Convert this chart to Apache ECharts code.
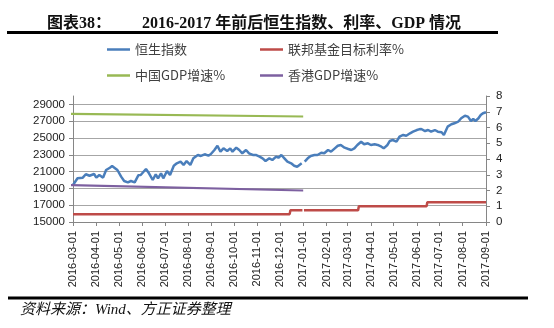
<!DOCTYPE html>
<html>
<head>
<meta charset="utf-8">
<script src="https://cdn.jsdelivr.net/npm/echarts@6/dist/echarts.min.js"></script>
<style>
html,body{margin:0;padding:0;background:#fff;}
#chart{width:554px;height:328px;}
</style>
</head>
<body>
<div id="chart"></div>
<script>
// ---------- data ----------
var monthTicks = ['2016-03-01','2016-04-01','2016-05-01','2016-06-01','2016-07-01','2016-08-01','2016-09-01','2016-10-01','2016-11-01','2016-12-01','2017-01-01','2017-02-01','2017-03-01','2017-04-01','2017-05-01','2017-06-01','2017-07-01','2017-08-01','2017-09-01'];
var leftTicks = [15000,17000,19000,21000,23000,25000,27000,29000];

var hsiDates = [
'2016-03-01','2016-03-07','2016-03-14','2016-03-18','2016-03-23','2016-03-29',
'2016-04-01','2016-04-05','2016-04-10','2016-04-14','2016-04-19','2016-04-22','2016-04-25','2016-04-29',
'2016-05-04','2016-05-08','2016-05-13','2016-05-17','2016-05-22','2016-05-27','2016-05-30',
'2016-06-06','2016-06-10','2016-06-15','2016-06-19','2016-06-22','2016-06-26','2016-06-29',
'2016-07-04','2016-07-08','2016-07-13','2016-07-17','2016-07-22','2016-07-26','2016-07-30',
'2016-08-04','2016-08-08','2016-08-14','2016-08-18','2016-08-23','2016-08-28','2016-08-31',
'2016-09-05','2016-09-09','2016-09-13','2016-09-17','2016-09-22','2016-09-26','2016-09-29',
'2016-10-04','2016-10-08','2016-10-12','2016-10-17','2016-10-21','2016-10-26','2016-10-30',
'2016-11-04','2016-11-08','2016-11-12','2016-11-17','2016-11-21','2016-11-26','2016-11-29',
'2016-12-03','2016-12-07','2016-12-11','2016-12-16','2016-12-20','2016-12-24','2016-12-27','2016-12-30',
'2017-01-01','2017-01-03','2017-01-07','2017-01-11','2017-01-16','2017-01-20','2017-01-25','2017-01-29',
'2017-02-03','2017-02-07','2017-02-12','2017-02-16','2017-02-20','2017-02-25',
'2017-03-02','2017-03-06','2017-03-10','2017-03-14','2017-03-19','2017-03-23','2017-03-28',
'2017-04-01','2017-04-06','2017-04-10','2017-04-15','2017-04-18','2017-04-23','2017-04-26','2017-04-30',
'2017-05-05','2017-05-09','2017-05-14','2017-05-18','2017-05-23','2017-05-27',
'2017-06-01','2017-06-04','2017-06-07','2017-06-12','2017-06-16','2017-06-20','2017-06-25','2017-06-29',
'2017-07-04','2017-07-07','2017-07-12','2017-07-17','2017-07-21','2017-07-26','2017-07-30',
'2017-08-04','2017-08-08','2017-08-12','2017-08-15','2017-08-18','2017-08-22','2017-08-25','2017-08-28',
'2017-09-01'];
var hsiValues = [
19400,20200,20280,20680,20510,20710,
20280,20600,20280,21190,21460,21660,21460,21190,
20400,19880,19720,19880,19720,20580,20600,
21310,20800,20000,20680,20200,20800,20200,
21070,20600,21700,21990,22180,21790,22260,
21790,22580,22980,22860,23060,22900,23060,
23570,24080,23370,23770,23450,23770,23370,
23850,23570,23180,23570,23180,22980,22980,
22780,22580,22260,22580,22380,22780,22650,
22980,22580,22180,21990,21700,21580,21790,21990,
null,22180,22580,22860,22980,22980,23250,23180,
23570,23370,23770,24080,24170,23850,
23690,23570,23770,24170,24560,24250,24370,
24170,24250,24170,23960,23770,24170,24640,24760,
24560,25150,25360,25270,25560,25750,
25950,26030,26070,25830,25950,25750,25950,25750,
25680,25360,26350,26630,26750,26940,27350,
27650,27540,27020,27260,27020,27350,27740,27940,
28060];

var fedDates = ['2016-03-01','2016-12-14','2016-12-15','2016-12-31','2017-01-01','2017-01-02','2017-03-15','2017-03-16','2017-06-14','2017-06-15','2017-09-01'];
var fedValues = [0.5,0.5,0.75,0.75,null,0.75,0.75,1.0,1.0,1.25,1.25];

var cnGdpDates = ['2016-01-01','2017-01-01'];
var cnGdpValues = [6.9,6.7];
var hkGdpDates = ['2016-01-01','2017-01-01'];
var hkGdpValues = [2.4,2.0];

var seriesNames = ['恒生指数','联邦基金目标利率%','中国GDP增速%','香港GDP增速%'];
var seriesColors = ['#4A7EBB','#BE4B48','#98B954','#7D60A0'];

// ---------- build ----------
function ts(s){ var p = s.split('-'); return Date.UTC(+p[0], +p[1]-1, +p[2]); }
function pairs(d, v){ return d.map(function(x,i){ return [ts(x), v[i]]; }); }
function pad(n){ return n < 10 ? '0'+n : ''+n; }
function fmtDate(v){ var d=new Date(v); return d.getUTCFullYear()+'-'+pad(d.getUTCMonth()+1)+'-'+pad(d.getUTCDate()); }

var monthTs = monthTicks.map(ts);

var chart = echarts.init(document.getElementById('chart'), null, {renderer:'canvas'});
var serifFont = '"Liberation Serif","Noto Sans CJK SC"';
var labelFont = '"Liberation Sans", Arial, sans-serif';
var legendPos = [[102,38],[255,38],[102,64],[255,64]];

var legends = seriesNames.map(function(n,i){
  return {
    data:[n], left:legendPos[i][0], top:legendPos[i][1], orient:'horizontal',
    icon:'rect', itemWidth:23, itemHeight:2.5, itemGap:0,
    textStyle:{fontSize:13, color:'#404040', fontFamily:'"Noto Sans CJK SC", sans-serif'}
  };
});

var option = {
  animation:false,
  backgroundColor:'#fff',
  title:[
    {text:'图表38：', left:42, top:11, textStyle:{fontFamily:serifFont, fontWeight:'bold', fontSize:16, color:'#111'}},
    {text:'2016-2017 年前后恒生指数、利率、GDP 情况', left:137, top:11, textStyle:{fontFamily:serifFont, fontWeight:'bold', fontSize:16, color:'#111'}}
  ],
  graphic:[
    {type:'rect', shape:{x:7, y:31, width:491, height:3}, style:{fill:'#000'}},
    {type:'rect', shape:{x:8, y:296.5, width:520, height:3}, style:{fill:'#000'}},
    {type:'text', left:20, top:303, style:{text:'资料来源：Wind、方正证券整理', font:'italic 15px ' + serifFont, fill:'#111'}}
  ],
  legend:legends,
  grid:{left:73, right:68, top:96, bottom:106},
  xAxis:{
    type:'value', min:ts(monthTicks[0]), max:ts(monthTicks[monthTicks.length-1]),
    axisLine:{show:true, lineStyle:{color:'#868686', width:1}},
    axisTick:{show:true, customValues:monthTs, length:4, lineStyle:{color:'#868686'}},
    axisLabel:{customValues:monthTs, rotate:90, margin:9, fontSize:11, color:'#222', fontFamily:labelFont,
      formatter:function(v){ return fmtDate(v); }},
    splitLine:{show:false}
  },
  yAxis:[
    {type:'value', position:'left', min:15000, max:30000,
      axisLine:{show:true, lineStyle:{color:'#868686'}},
      axisTick:{show:true, customValues:leftTicks, length:4, lineStyle:{color:'#868686'}},
      axisLabel:{customValues:leftTicks, fontSize:11.5, color:'#222', fontFamily:labelFont, margin:8,
        formatter:function(v){ return String(v); }},
      splitLine:{show:true, lineStyle:{color:'#a6a6a6', width:1}}
    },
    {type:'value', position:'right', min:0, max:8, interval:1,
      axisLine:{show:true, lineStyle:{color:'#868686'}},
      axisTick:{show:true, length:4, lineStyle:{color:'#868686'}},
      axisLabel:{fontSize:11.5, color:'#222', fontFamily:labelFont, margin:10},
      splitLine:{show:false}
    }
  ],
  series:[
    {name:seriesNames[0], type:'line', yAxisIndex:0, data:pairs(hsiDates,hsiValues), symbol:'none', showSymbol:false,
      lineStyle:{color:seriesColors[0], width:2.5}, itemStyle:{color:seriesColors[0]}, connectNulls:false},
    {name:seriesNames[1], type:'line', yAxisIndex:1, data:pairs(fedDates,fedValues), symbol:'none', showSymbol:false,
      lineStyle:{color:seriesColors[1], width:2.5}, itemStyle:{color:seriesColors[1]}, connectNulls:false},
    {name:seriesNames[2], type:'line', yAxisIndex:1, data:pairs(cnGdpDates,cnGdpValues), symbol:'none', showSymbol:false,
      lineStyle:{color:seriesColors[2], width:2.2}, itemStyle:{color:seriesColors[2]}, clip:true},
    {name:seriesNames[3], type:'line', yAxisIndex:1, data:pairs(hkGdpDates,hkGdpValues), symbol:'none', showSymbol:false,
      lineStyle:{color:seriesColors[3], width:2.2}, itemStyle:{color:seriesColors[3]}, clip:true}
  ]
};
chart.setOption(option);
</script>
</body>
</html>
